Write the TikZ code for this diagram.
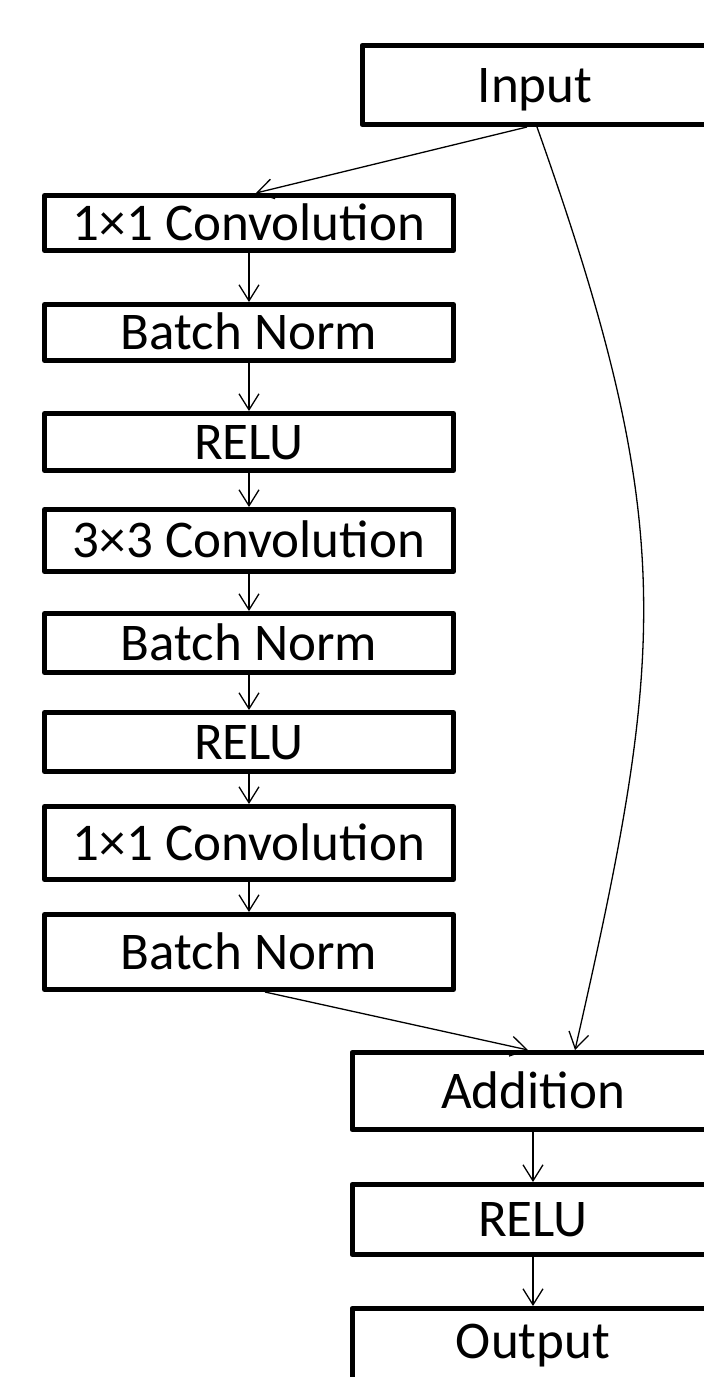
\documentclass[tikz,border=0pt]{standalone}
\usepackage{fontspec}
\setmainfont{Carlito}
\usetikzlibrary{arrows.meta}
\begin{document}
\begin{tikzpicture}[x=1pt,y=-1pt,
  blk/.style={draw=black, line width=5pt, rectangle, inner sep=0pt,
    font=\fontsize{53}{60}\selectfont, text height=34pt, text depth=0pt,
    line join=round},
  flow/.style={line width=1.3pt,
    -{Straight Barb[length=16pt,width=20pt,line width=1.3pt]}}
]
% page frame; the right-hand column runs off the page edge
\clip (0,0) rectangle (704,1377);
\fill[white] (0,0) rectangle (704,1377);

% main branch
\node[blk, minimum width=409pt, minimum height=55pt] (c1) at (249,223)   {1×1 Convolution};
\node[blk, minimum width=409pt, minimum height=56pt] (n1) at (249,332.5) {Batch Norm};
\node[blk, minimum width=409pt, minimum height=57pt] (r1) at (249,442)   {RELU};
\node[blk, minimum width=409pt, minimum height=62pt] (c2) at (249,540.5) {3×3 Convolution};
\node[blk, minimum width=409pt, minimum height=59pt] (n2) at (249,643)   {Batch Norm};
\node[blk, minimum width=409pt, minimum height=59pt] (r2) at (249,742)   {RELU};
\node[blk, minimum width=409pt, minimum height=73pt] (c3) at (249,843)   {1×1 Convolution};
\node[blk, minimum width=409pt, minimum height=75pt] (n3) at (249,952)   {Batch Norm};

% right column
\node[blk, minimum width=346pt, minimum height=79pt] (in)  at (535,85)     {Input};
\node[blk, minimum width=362pt, minimum height=77pt] (add) at (533,1091)   {Addition};
\node[blk, minimum width=362pt, minimum height=70pt] (r3)  at (533,1219.5) {RELU};
\node[blk, minimum width=362pt, minimum height=80pt, text depth=14pt] (out) at (533,1348.5) {Output};

% connectors
\draw[flow] ([xshift=-8pt]in.south) -- ([xshift=7pt]c1.north);
\draw[flow] (c1) -- (n1);
\draw[flow] (n1) -- (r1);
\draw[flow] (r1) -- (c2);
\draw[flow] (c2) -- (n2);
\draw[flow] (n2) -- (r2);
\draw[flow] (r2) -- (c3);
\draw[flow] (c3) -- (n3);
\draw[flow] ([xshift=16pt]n3.south) -- ([xshift=-5pt]add.north);
\draw[flow] ([xshift=2pt]in.south) .. controls (679,527) and (666,650) .. ([xshift=42pt]add.north);
\draw[flow] (add) -- (r3);
\draw[flow] (r3) -- (out);
\end{tikzpicture}
\end{document}
